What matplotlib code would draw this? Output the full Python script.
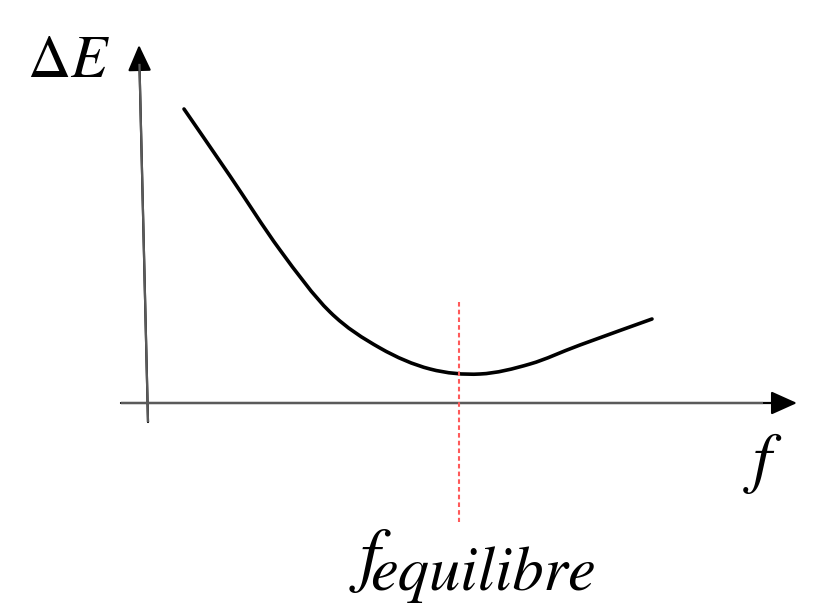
import matplotlib.pyplot as plt
from matplotlib.patches import FancyArrowPatch, PathPatch
from matplotlib.path import Path

###############################################################################
# Data (schematic energy curve, origin at the axes crossing)

f_vals = [38, 84, 134, 184, 234, 284, 334, 384, 434, 506]
dE_vals = [294, 227, 153, 91, 55, 34, 29, 39, 58, 84]

f_eq = 313  # position of the minimum (red dashed line)

x_axis = [(-25, 0), (651, 0)]
y_axis = [(2, -19), (-7, 358)]

###############################################################################
# Helpers

def smooth_path(xs, ys):
    # Catmull-Rom through the points, drawn as cubic Bezier segments
    pts = list(zip(xs, ys))
    verts = [pts[0]]
    codes = [Path.MOVETO]
    for i in range(len(pts) - 1):
        p0 = pts[i - 1] if i > 0 else pts[i]
        p1 = pts[i]
        p2 = pts[i + 1]
        p3 = pts[i + 2] if i + 2 < len(pts) else pts[i + 1]
        c1 = (p1[0] + (p2[0] - p0[0]) / 6.0, p1[1] + (p2[1] - p0[1]) / 6.0)
        c2 = (p2[0] - (p3[0] - p1[0]) / 6.0, p2[1] - (p3[1] - p1[1]) / 6.0)
        verts += [c1, c2, p2]
        codes += [Path.CURVE4] * 3
    return Path(verts, codes)

###############################################################################
# Plot

fig = plt.figure(figsize=(8.16, 6.04), dpi=100)
ax = fig.add_axes([0, 0, 1, 1])
ax.set_xlim(-146, 670)
ax.set_ylim(-201, 403)
ax.axis('off')

axis_col = '#5a5a5a'
for (p0, p1) in (x_axis, y_axis):
    arr = FancyArrowPatch(p0, p1, arrowstyle='-|>,head_length=1.0,head_width=0.45',
                          mutation_scale=16, color='black', lw=1.6,
                          shrinkA=0, shrinkB=0)
    ax.add_patch(arr)
    # shaft in gray, only the head stays black
    ax.plot([p0[0], p1[0] - 0.05 * (p1[0] - p0[0])],
            [p0[1], p1[1] - 0.05 * (p1[1] - p0[1])],
            color=axis_col, lw=1.6, solid_capstyle='butt')

curve = PathPatch(smooth_path(f_vals, dE_vals), facecolor='none',
                  edgecolor='black', lw=2.6, capstyle='round')
ax.add_patch(curve)

ax.plot([f_eq, f_eq], [101, -119], color='#ff5a5a', lw=1.5,
        dashes=(2.2, 1.5))

font = dict(family='STIXGeneral', style='italic', color='black')
ax.text(-77, 326, r'$\Delta E$', fontsize=43, ha='center', va='baseline',
        math_fontfamily='stix')
ax.text(616, -77, 'f', fontsize=48, ha='center', va='baseline', **font)
ax.text(214, -175, 'f', fontsize=52, ha='left', va='baseline', **font)
ax.text(224, -187, 'equilibre', fontsize=45, ha='left', va='baseline', **font)

fig.savefig('out.png', dpi=100)
